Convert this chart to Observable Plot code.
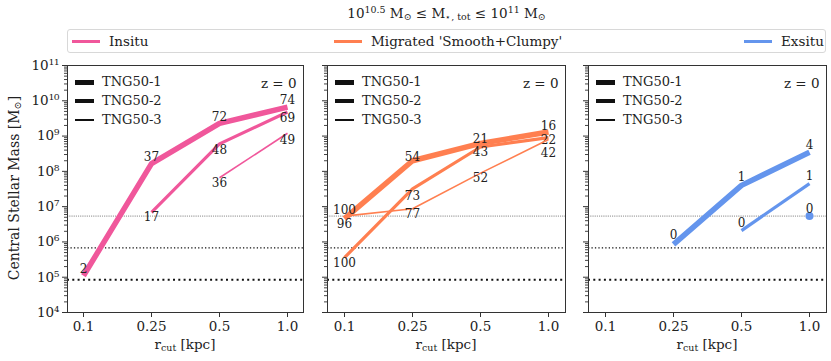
<!DOCTYPE html>
<html><head><meta charset="utf-8">
<script src="https://cdn.jsdelivr.net/npm/d3@7"></script>
<script src="https://cdn.jsdelivr.net/npm/@observablehq/plot@0.6"></script>
<style>
body{margin:0;background:#fff;font-family:"DejaVu Serif",serif;color:#222;}
#wrap{position:relative;width:831px;height:361px;overflow:hidden;}
.abs{position:absolute;white-space:nowrap;}
#title{left:67px;width:759px;top:5px;text-align:center;font-size:13.5px;}
#legend{left:67px;top:29px;width:757px;height:22px;border:1px solid #d8d8d8;border-radius:3px;}
.lg{position:absolute;top:0;height:22px;line-height:22px;font-size:13.5px;}
.lg i{position:absolute;top:10px;height:3px;width:28px;left:0;}
.lg span{position:absolute;left:37px;}
.inner .row{position:absolute;height:14px;font-size:13px;line-height:14px;}
.inner .row i{position:absolute;left:0;width:19px;background:#111;}
.inner .row span{position:absolute;left:27px;top:0;}
.panel{position:absolute;top:55px;}
sub{font-size:70%;vertical-align:-0.25em;line-height:0;}
sup{font-size:70%;vertical-align:0.5em;line-height:0;}
</style></head>
<body><div id="wrap"></div>
<script>
// ---------- data ----------
const rcut = ["0.1", "0.25", "0.5", "1.0"];
const components = ["Insitu", "Migrated 'Smooth+Clumpy'", "Exsitu"];
const sims = ["TNG50-1", "TNG50-2", "TNG50-3"];
const resolutionMass = [8.5e4, 6.8e5, 5.4e6];   // baryonic mass resolution per simulation
const yTicks = [1e4, 1e5, 1e6, 1e7, 1e8, 1e9, 1e10, 1e11];
const yTickLabels = ["10⁴", "10⁵", "10⁶", "10⁷", "10⁸", "10⁹", "10¹⁰", "10¹¹"];

// central stellar mass (Msun) at rcut, null = not shown
const insitu_TNG50_1 = [1.1e5, 1.65e8, 2.3e9, 6.6e9];
const insitu_TNG50_2 = [null, 6.9e6, 6.0e8, 4.8e9];
const insitu_TNG50_3 = [null, null, 6.6e7, 1.2e9];
const migrated_TNG50_1 = [4.6e6, 2.0e8, 6.2e8, 1.3e9];
const migrated_TNG50_2 = [3.6e5, 3.2e7, 4.9e8, 9.0e8];
const migrated_TNG50_3 = [5.4e6, 8.7e6, 8.9e7, 8.0e8];
const exsitu_TNG50_1 = [null, 8.5e5, 4.0e7, 3.5e8];
const exsitu_TNG50_2 = [null, null, 2.1e6, 4.5e7];
const exsitu_TNG50_3 = [null, null, null, 5.4e6];

// annotated numbers next to each point
const insitu_N_1 = [2, 37, 72, 74];
const insitu_N_2 = [null, 17, 48, 69];
const insitu_N_3 = [null, null, 36, 49];
const migrated_N_1 = [100, 54, 21, 16];
const migrated_N_2 = [100, 73, 43, 22];
const migrated_N_3 = [96, 77, 52, 42];
const exsitu_N_1 = [null, 0, 1, 4];
const exsitu_N_2 = [null, null, 0, 1];
const exsitu_N_3 = [null, null, null, 0];

// ---------- styles ----------
const colors = ["#f0579b", "#ff7f50", "#6495ed"];
const widths = [5.5, 3.2, 1.6];
const legendWidths = [5, 3.3, 1.5];
const ruleWidths = [2, 1.3, 0.7];
// vertical label offsets (px) per panel, simulation, rcut
const labelDy = [
  [[-7, -7, -6, -7], [6, 5, 6, 6], [6, 6, 5, 7]],
  [[-8, -4, -4, -5.5], [6, 7, 5.5, 2.3], [8, 5, 5, 13.5]],
  [[-8, -9, -8, -7], [-7, -7, -7, -7], [-7, -7, -7, -7]]
];
const panelGeom = [
  {left: 0, width: 310, ml: 67, mr: 7},
  {left: 310, width: 260, ml: 17, mr: 5},
  {left: 570, width: 261, ml: 18, mr: 5}
];
const series = [
  [insitu_TNG50_1, insitu_TNG50_2, insitu_TNG50_3],
  [migrated_TNG50_1, migrated_TNG50_2, migrated_TNG50_3],
  [exsitu_TNG50_1, exsitu_TNG50_2, exsitu_TNG50_3]
];
const counts = [
  [insitu_N_1, insitu_N_2, insitu_N_3],
  [migrated_N_1, migrated_N_2, migrated_N_3],
  [exsitu_N_1, exsitu_N_2, exsitu_N_3]
];

const wrap = document.getElementById("wrap");
function add(html, cls, style) {
  const d = document.createElement("div");
  d.className = cls; d.innerHTML = html; Object.assign(d.style, style || {});
  wrap.appendChild(d); return d;
}

// title
add("10<sup>10.5</sup> M<sub>⊙</sub> ≤ M<sub>⋆, tot</sub> ≤ 10<sup>11</sup> M<sub>⊙</sub>", "abs", {}).id = "title";
// legend
const lg = add("", "abs", {}); lg.id = "legend";
const lgX = [4, 266, 676];
components.forEach((c, i) => {
  const it = document.createElement("div");
  it.className = "lg"; it.style.left = lgX[i] + "px";
  it.innerHTML = `<i style="background:${colors[i]}"></i><span>${c}</span>`;
  lg.appendChild(it);
});

const minorTicks = [];
for (let e = 4; e < 11; e++) for (let m = 2; m <= 9; m++) minorTicks.push(m * 10 ** e);

series.forEach((ser, p) => {
  const g = panelGeom[p];
  const marks = [];
  resolutionMass.forEach((m, j) => {
    marks.push(Plot.ruleY([m], {stroke: "#111", strokeWidth: ruleWidths[j],
      strokeDasharray: `${ruleWidths[j]},${(ruleWidths[j] * 1.65).toFixed(2)}`}));
  });
  ser.forEach((vals, j) => {
    const rows = rcut.map((r, i) => ({x: r, y: vals[i], n: counts[p][j][i], dy: labelDy[p][j][i]}));
    const valid = rows.filter(d => d.y != null);
    marks.push(Plot.line(rows, {x: "x", y: "y", stroke: colors[p], strokeWidth: widths[j],
      strokeLinejoin: "round", strokeLinecap: "butt"}));
    if (valid.length === 1) marks.push(Plot.dot(valid, {x: "x", y: "y", r: 4, fill: colors[p]}));
    valid.forEach(d => {
      marks.push(Plot.text([d], {x: "x", y: "y", text: v => String(v.n), dy: d.dy,
        fontSize: 12, fill: "#222"}));
    });
  });
  marks.push(Plot.frame({stroke: "#333", strokeWidth: 1}));
  marks.push(Plot.axisY(minorTicks, {tickSize: 3, tickFormat: () => "", stroke: "#444", label: null}));
  marks.push(Plot.axisY(yTicks, {tickSize: 5, stroke: "#333", label: null, fontSize: 13.5, tickPadding: 3,
    tickFormat: p === 0 ? (d => yTickLabels[yTicks.indexOf(d)]) : () => ""}));
  marks.push(Plot.axisX({tickSize: 5, stroke: "#333", label: null, fontSize: 13.5, tickPadding: 4}));
  marks.push(Plot.text(["z = 0"], {frameAnchor: "top-right", dx: -7, dy: 13, fontSize: 13.5, fill: "#222"}));

  const chart = Plot.plot({
    width: g.width, height: 306,
    marginLeft: g.ml, marginRight: g.mr, marginTop: 10, marginBottom: 49,
    style: {fontFamily: "DejaVu Serif", background: "transparent", overflow: "visible", color: "#222"},
    x: {type: "point", domain: rcut, padding: 0.235, label: null},
    y: {type: "log", domain: [1e4, 1e11], label: null},
    marks
  });
  const holder = add("", "panel", {left: g.left + "px"});
  holder.appendChild(chart);

  // inner legend of simulations
  const inner = add("", "abs inner", {left: (g.left + g.ml + 8) + "px", top: "75px"});
  sims.forEach((s, j) => {
    const row = document.createElement("div");
    row.className = "row"; row.style.top = (j * 19) + "px";
    row.innerHTML = `<i style="height:${legendWidths[j]}px;top:${7 - legendWidths[j] / 2}px"></i><span>${s}</span>`;
    inner.appendChild(row);
  });
  // x title
  add("r<sub>cut</sub> [kpc]", "abs", {left: (g.left + g.ml) + "px", width: (g.width - g.ml - g.mr) + "px",
    top: "336px", textAlign: "center", fontSize: "13.5px"});
});

// y title
add("Central Stellar Mass [M<sub>⊙</sub>]", "abs", {left: "14px", top: "188px", fontSize: "14px",
  transform: "translate(-50%,-50%) rotate(-90deg)"});
</script>
</body></html>
